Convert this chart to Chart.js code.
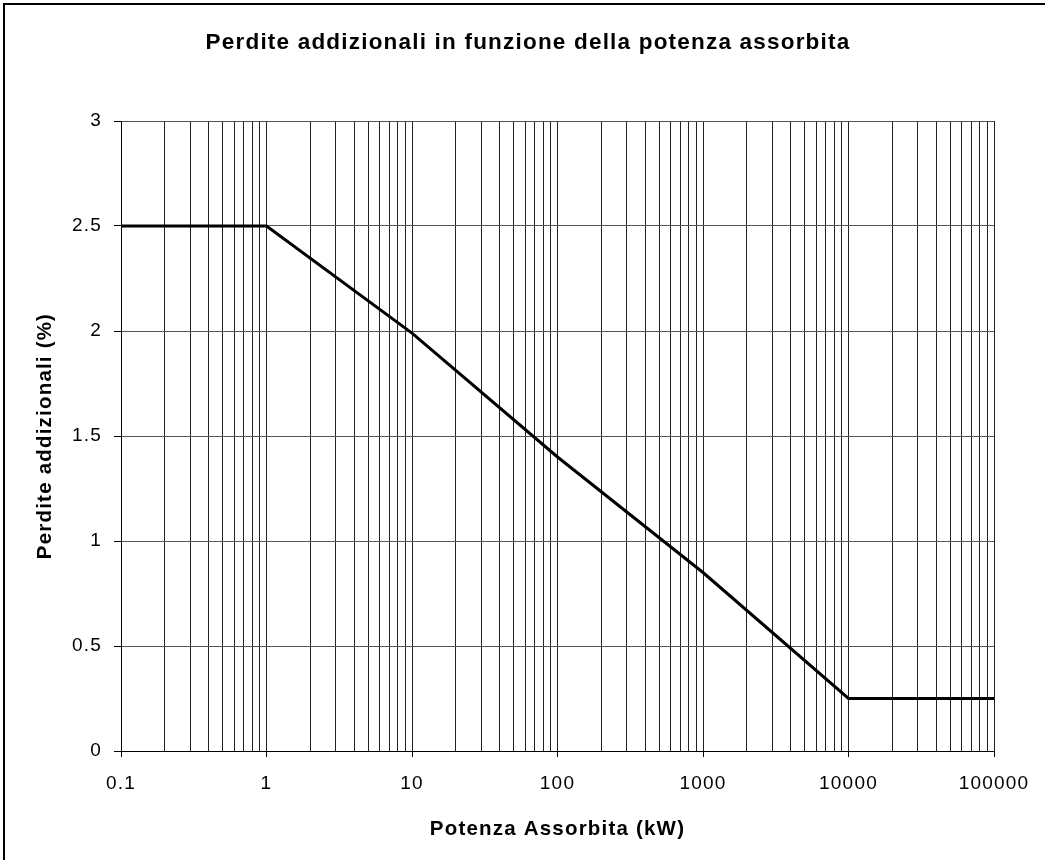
<!DOCTYPE html>
<html>
<head>
<meta charset="utf-8">
<script src="https://cdn.jsdelivr.net/npm/chart.js@4/dist/chart.umd.min.js"></script>
<style>
  html, body { margin: 0; padding: 0; background: #fff; }
  #wrap { width: 1045px; height: 860px; }
</style>
</head>
<body>
<div id="wrap"><canvas id="chart" width="1045" height="860"></canvas></div>
<script>
// potenza assorbita (kW) and perdite addizionali (%)
const potenza = [0.1, 1, 10, 100, 1000, 10000, 100000];
const perdite = [2.5, 2.5, 1.99, 1.4, 0.85, 0.25, 0.25];

// axis ticks
const xDecades = [0.1, 1, 10, 100, 1000, 10000, 100000];
const xTickLabels = ["0.1", "1", "10", "100", "1000", "10000", "100000"];
const yTicks = [0, 0.5, 1, 1.5, 2, 2.5, 3];

const font = "'Liberation Sans', Arial, sans-serif";
Chart.defaults.font.family = font;
Chart.defaults.color = "#000";

// minor log ticks 1..9 inside each decade
function logTicks() {
  const out = [];
  xDecades.forEach((d, i) => {
    if (i === xDecades.length - 1) { out.push({ value: d }); return; }
    for (let k = 1; k < 10; k++) out.push({ value: +(d * k).toPrecision(6) });
  });
  return out;
}
function isDecade(v) { return xDecades.indexOf(v) !== -1; }

// the reference text is drawn slightly spaced out
const spacing = {
  id: "spacing",
  beforeUpdate(chart) { chart.ctx.letterSpacing = "1.2px"; },
  beforeDraw(chart) { chart.ctx.letterSpacing = "1.2px"; }
};

const frame = {
  id: "frame",
  afterDraw(chart) {
    const c = chart.ctx;
    c.save();
    c.strokeStyle = "#000";
    c.lineWidth = 2;
    c.beginPath();
    c.moveTo(4, 1100);
    c.lineTo(4, 4);
    c.lineTo(1100, 4);
    c.stroke();
    c.restore();
  }
};

new Chart(document.getElementById("chart"), {
  type: "line",
  data: {
    datasets: [{
      data: potenza.map((x, i) => ({ x: x, y: perdite[i] })),
      borderColor: "#000",
      borderWidth: 3,
      pointRadius: 0,
      tension: 0,
      fill: false
    }]
  },
  options: {
    responsive: false,
    animation: false,
    layout: { padding: { top: 0, left: 62, right: 51, bottom: 4 } },
    plugins: {
      legend: { display: false },
      tooltip: { enabled: false },
      title: {
        display: true,
        text: "Perdite addizionali in funzione della potenza assorbita",
        font: { size: 22.5, weight: "bold", family: font },
        color: "#000",
        padding: { top: 29.5, bottom: 64.5 }
      }
    },
    scales: {
      x: {
        type: "logarithmic",
        min: 0.1,
        max: 100000,
        afterBuildTicks(scale) { scale.ticks = logTicks(); },
        afterFit(scale) { scale.height = 860 - 751 - 4; },
        ticks: {
          autoSkip: false,
          maxRotation: 0,
          padding: 15,
          font: { size: 19 },
          callback(v) {
            const i = xDecades.indexOf(v);
            return i === -1 ? "" : xTickLabels[i];
          }
        },
        grid: {
          color: "#222",
          lineWidth: 1,
          tickLength: 6,
          tickColor: ctx => (ctx.tick && isDecade(ctx.tick.value)) ? "#000" : "rgba(0,0,0,0)"
        },
        border: { color: "#000", width: 1 },
        title: {
          display: true,
          text: "Potenza Assorbita (kW)",
          font: { size: 20.5, weight: "bold" },
          padding: { top: 14.7, bottom: 14.7 }
        }
      },
      y: {
        min: 0,
        max: 3,
        afterBuildTicks(scale) { scale.ticks = yTicks.map(v => ({ value: v })); },
        afterFit(scale) { scale.width = 121 - 62; },
        ticks: {
          padding: 12,
          font: { size: 19 },
          callback: v => String(v)
        },
        grid: {
          color: "#555",
          lineWidth: 1,
          tickLength: 7,
          tickColor: "#000"
        },
        border: { color: "#000", width: 1 },
        title: {
          display: true,
          text: "Perdite addizionali (%)",
          font: { size: 20.5, weight: "bold" },
          padding: { top: -29.3, bottom: -29.3 }
        }
      }
    }
  },
  plugins: [spacing, frame]
});
</script>
</body>
</html>
